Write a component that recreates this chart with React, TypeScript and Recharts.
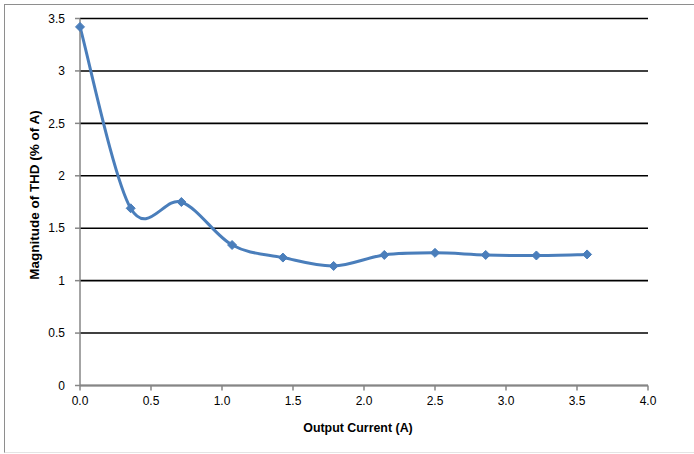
import React from "react";
import { LineChart, Line, XAxis, YAxis, CartesianGrid, Label } from "recharts";

const currentValues = [0, 0.357, 0.714, 1.071, 1.429, 1.786, 2.143, 2.5, 2.857, 3.214, 3.571];
const thdValues = [3.42, 1.69, 1.75, 1.34, 1.22, 1.14, 1.245, 1.265, 1.245, 1.24, 1.25];
const xTicks = [0, 0.5, 1, 1.5, 2, 2.5, 3, 3.5, 4];
const yTicks = [0, 0.5, 1, 1.5, 2, 2.5, 3, 3.5];
const xTitle = "Output Current (A)";
const yTitle = "Magnitude of THD (% of A)";

const data = currentValues.map((x, i) => ({ x, y: thdValues[i] }));

// Excel-like smoothed line (Catmull-Rom style bezier, 1/6 factor)
function excelCurve(context: any) {
  let pts: [number, number][] = [];
  return {
    areaStart() {},
    areaEnd() {},
    lineStart() {
      pts = [];
    },
    lineEnd() {
      if (!pts.length) return;
      context.moveTo(pts[0][0], pts[0][1]);
      for (let i = 0; i < pts.length - 1; i++) {
        const p0 = pts[i - 1] || pts[i];
        const p1 = pts[i];
        const p2 = pts[i + 1];
        const p3 = pts[i + 2] || pts[i + 1];
        const c1x = p1[0] + (p2[0] - p0[0]) / 6;
        const c1y = p1[1] + (p2[1] - p0[1]) / 6;
        const c2x = p2[0] - (p3[0] - p1[0]) / 6;
        const c2y = p2[1] - (p3[1] - p1[1]) / 6;
        context.bezierCurveTo(c1x, c1y, c2x, c2y, p2[0], p2[1]);
      }
    },
    point(x: number, y: number) {
      pts.push([+x, +y]);
    },
  };
}

const BLUE = "#4A7EBB";
const AXIS = "#868686";
const FONT = "'Liberation Sans', Arial, sans-serif";

const Diamond = (props: any) => {
  const { cx, cy, index } = props;
  if (cx == null || cy == null) return null;
  const r = 4.5;
  return (
    <path
      key={`d-${index}`}
      d={`M${cx},${cy - r}L${cx + r},${cy}L${cx},${cy + r}L${cx - r},${cy}Z`}
      fill={BLUE}
      stroke={BLUE}
      strokeWidth={1}
    />
  );
};

export default function App() {
  return (
    <div style={{ position: "absolute", left: 0, top: 0, width: 694, height: 454, background: "#fff", overflow: "hidden" }}>
      <div
        style={{
          position: "absolute",
          left: 4,
          top: 4,
          width: 720,
          height: 447,
          borderLeft: "1px solid #8e8e8e",
          borderTop: "1px solid #8e8e8e",
          borderBottom: "1px solid #e4e4e4",
        }}
      />
      <div style={{ position: "absolute", left: 0, top: 0 }}>
        <LineChart width={694} height={454} data={data} margin={{ top: 18.5, right: 46, bottom: 38.5, left: 0 }}>
          <CartesianGrid horizontal vertical={false} stroke="#000" strokeWidth={1.6} strokeOpacity={1} />
          <XAxis
            dataKey="x"
            type="number"
            domain={[0, 4]}
            ticks={xTicks}
            tickFormatter={(v: number) => v.toFixed(1)}
            height={30}
            stroke={AXIS}
            strokeWidth={1.5}
            tickSize={5}
            tickMargin={6}
            tick={{ fill: "#000", fontSize: 12, fontFamily: FONT }}
            interval={0}
          >
            <Label
              content={(p: any) => {
                const vb = p.viewBox;
                return (
                  <text
                    x={vb.x + vb.width / 2 - 6}
                    y={vb.y + 46.5}
                    textAnchor="middle"
                    fontFamily={FONT}
                    fontWeight="bold"
                    fontSize={12.4}
                    fill="#000"
                  >
                    {xTitle}
                  </text>
                );
              }}
            />
          </XAxis>
          <YAxis
            type="number"
            domain={[0, 3.5]}
            ticks={yTicks}
            width={80}
            stroke={AXIS}
            strokeWidth={1.5}
            tickSize={5}
            tickMargin={10}
            tick={{ fill: "#000", fontSize: 12, fontFamily: FONT }}
            interval={0}
          >
            <Label
              content={(p: any) => {
                const vb = p.viewBox;
                const x = vb.x + 38.5;
                const y = vb.y + vb.height / 2 - 7;
                return (
                  <text
                    x={x}
                    y={y}
                    transform={`rotate(-90, ${x}, ${y})`}
                    textAnchor="middle"
                    fontFamily={FONT}
                    fontWeight="bold"
                    fontSize={13.5}
                    fill="#000"
                  >
                    {yTitle}
                  </text>
                );
              }}
            />
          </YAxis>
          <Line
            dataKey="y"
            type={excelCurve as any}
            stroke={BLUE}
            strokeWidth={3}
            dot={<Diamond />}
            activeDot={false}
            isAnimationActive={false}
          />
        </LineChart>
      </div>
    </div>
  );
}
